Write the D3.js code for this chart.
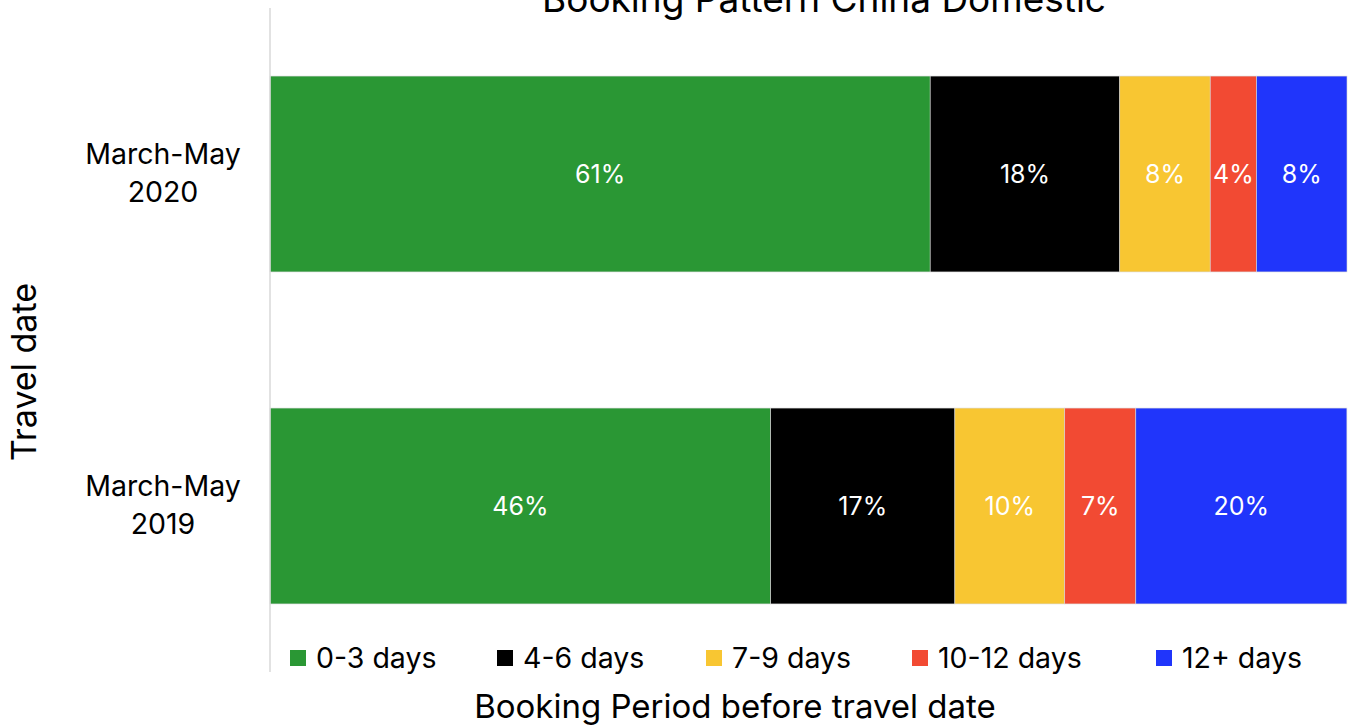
<!DOCTYPE html>
<html>
<head>
<meta charset="utf-8">
<script src="https://cdn.jsdelivr.net/npm/d3@7"></script>
<style>
  body { margin: 0; background: #fff; }
  svg text { font-family: Inter, "Noto Sans", sans-serif; }
</style>
</head>
<body>
<svg width="1350" height="726"></svg>
<script>
// travel periods (top to bottom)
const periods = ["March-May 2020", "March-May 2019"];
const buckets = ["0-3 days", "4-6 days", "7-9 days", "10-12 days", "12+ days"];
const colors = ["#2a9734", "#000000", "#f8c632", "#f24a33", "#2035fb"];
// share of bookings per bucket (%)
const share2020 = [61.3, 17.6, 8.4, 4.3, 8.4];
const share2019 = [46.49, 17.1, 10.2, 6.6, 19.6];
const shares = [share2020, share2019];

const svg = d3.select("svg");
const plotL = 270, plotR = 1347, plotT = 8, plotB = 672;

const x = d3.scaleLinear().domain([0, 100]).range([plotL, plotR]);
const y = d3.scaleBand().domain(periods).range([plotT, plotB]).paddingInner(0.41).paddingOuter(0.205);
const color = d3.scaleOrdinal().domain(buckets).range(colors);

// stack each row
const rows = periods.map((p, i) => {
    let acc = 0;
    return buckets.map((b, j) => {
        const v = shares[i][j];
        const seg = {period: p, bucket: b, x0: acc, x1: acc + v, v: v};
        acc += v;
        return seg;
    });
});

const segs = svg.append("g").selectAll("g.row")
    .data(rows)
    .join("g")
      .classed("row", true)
    .selectAll("g.seg")
    .data(d => d)
    .join("g")
      .classed("seg", true);

segs.append("rect")
    .attr("x", d => x(d.x0))
    .attr("y", d => y(d.period))
    .attr("width", d => x(d.x1) - x(d.x0))
    .attr("height", y.bandwidth())
    .attr("fill", d => color(d.bucket))
    .attr("stroke", "#d8d8d8")
    .attr("stroke-width", 0.6);

segs.append("text")
    .attr("x", d => (x(d.x0) + x(d.x1)) / 2)
    .attr("y", d => y(d.period) + y.bandwidth() / 2 + 9)
    .attr("text-anchor", "middle")
    .attr("fill", "#fff")
    .style("font-size", "25px")
    .text(d => Math.round(d.v) + "%");

// vertical axis line
svg.append("line")
    .attr("x1", plotL).attr("x2", plotL)
    .attr("y1", plotT).attr("y2", plotB)
    .attr("stroke", "#d9d9d9")
    .attr("stroke-width", 1.5);

// category labels, two lines each
const cat = svg.append("g").selectAll("text")
    .data(periods)
    .join("text")
      .attr("text-anchor", "middle")
      .attr("x", 163)
      .attr("y", d => y(d) + y.bandwidth() / 2)
      .style("font-size", "28.5px")
      .attr("fill", "#000");
cat.append("tspan").attr("x", 163).attr("dy", -10).text(d => d.split(" ")[0]);
cat.append("tspan").attr("x", 163).attr("dy", 38).text(d => d.split(" ")[1]);

// title (partly clipped at the top)
svg.append("text")
    .attr("x", 824).attr("y", 12)
    .attr("text-anchor", "middle")
    .style("font-size", "37px")
    .text("Booking Pattern China Domestic");

// axis titles
svg.append("text")
    .attr("transform", `translate(36, 372) rotate(-90)`)
    .attr("text-anchor", "middle")
    .style("font-size", "34px")
    .text("Travel date");

svg.append("text")
    .attr("x", 735).attr("y", 718)
    .attr("text-anchor", "middle")
    .style("font-size", "33px")
    .text("Booking Period before travel date");

// legend
const legendX = [290, 497, 706, 912, 1156];
const leg = svg.append("g").selectAll("g")
    .data(buckets)
    .join("g")
      .attr("transform", (d, i) => `translate(${legendX[i]}, 650)`);
leg.append("rect")
    .attr("width", 16).attr("height", 16)
    .attr("fill", d => color(d));
leg.append("text")
    .attr("x", 26).attr("y", 18)
    .style("font-size", "28.5px")
    .text(d => d);
</script>
</body>
</html>
